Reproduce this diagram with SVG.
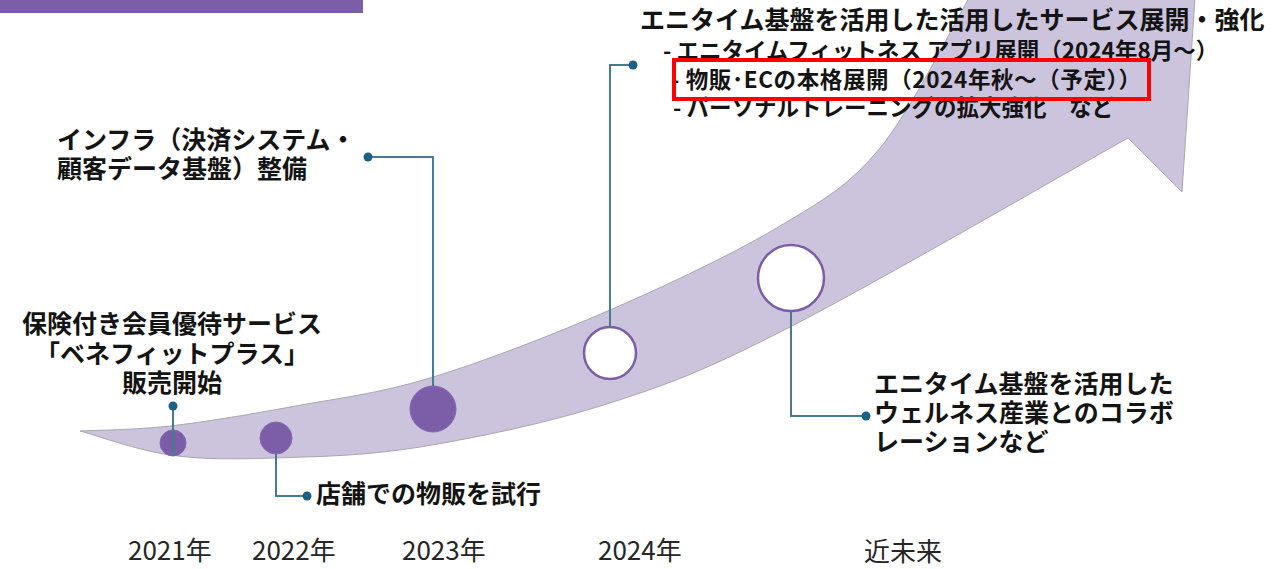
<svg xmlns="http://www.w3.org/2000/svg" width="1281" height="569" viewBox="0 0 1281 569">
<style>
.lbl{font-family:"Noto Sans CJK JP","Noto Sans",sans-serif;font-weight:700;font-size:25px;fill:#141414}
.sub{font-family:"Noto Sans CJK JP","Noto Sans",sans-serif;font-weight:700;font-size:22.5px;fill:#141414}
.yr{font-family:"Noto Sans CJK JP","Noto Sans",sans-serif;font-weight:400;font-size:26px;fill:#262626}
.dotf{fill:#7B5EA7;stroke:#8468B0;stroke-width:1}
.dote{fill:#ffffff;stroke:#7B5EA7;stroke-width:2.5}
.con{fill:none;stroke:#4A7A90;stroke-width:2}
.end{fill:#1B6185}
</style>
<rect x="0" y="0" width="363" height="13" fill="#7B5EA7"/>
<g id="arrow">
<path d="M80,431 C95,430.2 135,430 170,426 C205,422 246.7,415 290,407 C333.3,399 376.7,394.2 430,378 C483.3,361.8 551.7,335.3 610,310 C668.3,284.7 735,253 780,226 C825,199 848.5,186 880,148 C911.5,110 954.2,23 969,-2 L1195,-2 L1182,192 L1128,138 C1071.7,169.5 876.3,282.8 790,327 C703.7,371.2 671.7,383 610,403 C548.3,423 476.2,437.8 420,447 C363.8,456.2 314.7,456.7 273,458 C231.3,459.3 202.2,459.5 170,455 C137.8,450.5 95,435 80,431 Z" fill="#CCC3DD" stroke="#A9A6AE" stroke-width="1"/>
</g>
<g id="node-2021">
<circle class="dotf" cx="173" cy="443" r="13"/>
<text class="lbl" x="172" y="333" text-anchor="middle">保険付き会員優待サービス</text>
<text class="lbl" x="172" y="363" text-anchor="middle">「ベネフィットプラス」</text>
<text class="lbl" x="172" y="392" text-anchor="middle">販売開始</text>
<text class="yr" x="128" y="560">2021年</text>
</g>
<g id="node-2022">
<circle class="dotf" cx="276" cy="438" r="16"/>
<text class="lbl" x="316" y="503">店舗での物販を試行</text>
<text class="yr" x="252" y="560">2022年</text>
</g>
<g id="node-2023">
<circle class="dotf" cx="433" cy="409" r="23"/>
<text class="lbl" x="57" y="149">インフラ（決済システム・</text>
<text class="lbl" x="57" y="178">顧客データ基盤）整備</text>
<text class="yr" x="402" y="560">2023年</text>
</g>
<g id="node-2024">
<circle class="dote" cx="610" cy="353" r="26"/>
<text class="lbl" x="640" y="29">エニタイム基盤を活用した活用したサービス展開・強化</text>
<text class="sub" x="663" y="59">- エニタイムフィットネス アプリ展開（2024年8月～）</text>
<text class="sub" x="671" y="88" textLength="470" lengthAdjust="spacing">- 物販･ECの本格展開（2024年秋～（予定））</text>
<text class="sub" x="673" y="116">- パーソナルトレーニングの拡大強化　など</text>
<rect x="674" y="60" width="475" height="39" fill="none" stroke="#FF0000" stroke-width="4"/>
<text class="yr" x="598" y="560">2024年</text>
</g>
<g id="node-future">
<circle class="dote" cx="791" cy="278" r="33"/>
<text class="lbl" x="874" y="393">エニタイム基盤を活用した</text>
<text class="lbl" x="874" y="422">ウェルネス産業とのコラボ</text>
<text class="lbl" x="874" y="451">レーションなど</text>
<text class="yr" x="864" y="561">近未来</text>
</g>
<g id="connectors">
<polyline class="con" points="173,406 173,456"/>
<circle class="end" cx="173" cy="406" r="4.5"/>
<polyline class="con" points="276,454 276,496 307,496"/>
<circle class="end" cx="307" cy="496" r="4.5"/>
<polyline class="con" points="433,386 433,157 368,157"/>
<circle class="end" cx="368" cy="157" r="4.5"/>
<polyline class="con" points="610,327 610,65 633,65"/>
<circle class="end" cx="633" cy="65" r="4.5"/>
<polyline class="con" points="791,311 791,416 866,416"/>
<circle class="end" cx="866" cy="416" r="4.5"/>
</g>
</svg>
